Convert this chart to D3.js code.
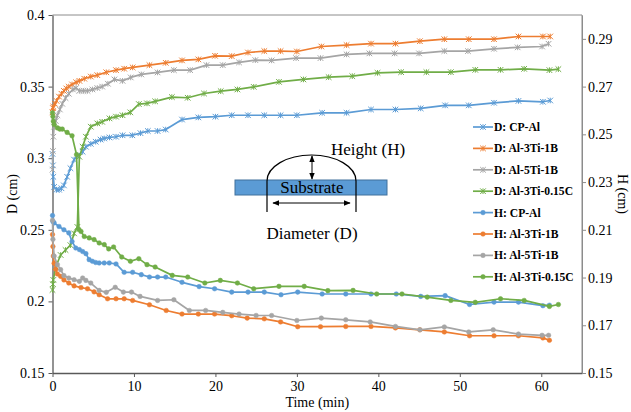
<!DOCTYPE html>
<html>
<head>
<meta charset="utf-8">
<script src="https://cdn.jsdelivr.net/npm/d3@7"></script>
<style>
body { margin: 0; background: #fff; }
svg { display: block; }
svg text { font-family: "Liberation Serif", "DejaVu Serif", serif; }
.axis text { font-size: 14px; fill: #000; }
.legend text { font-size: 11.6px; font-weight: bold; }
</style>
</head>
<body>
<script>
// axis ticks
var timeTicks = [0, 10, 20, 30, 40, 50, 60];
var dTicks = [0.15, 0.2, 0.25, 0.3, 0.35, 0.4];
var hTicks = [0.15, 0.17, 0.19, 0.21, 0.23, 0.25, 0.27, 0.29];

// D (cm) series - left axis
var dCpT = [0,0.05,0.1,0.2,0.5,0.8,1.1,1.4,1.8,2.2,2.65,3.1,3.7,4.1,4.7,5.3,5.9,6.35,7.0,7.8,8.6,9.8,10.8,11.7,12.9,13.9,15.9,17.9,20,22,24,26,28,30,33.1,36.1,39.1,42.1,45.2,48.2,51.1,54.2,57.2,60.2,61.1];
var dCpV = [0.303,0.295,0.287,0.280,0.278,0.278,0.279,0.281,0.287,0.293,0.299,0.302,0.3045,0.308,0.310,0.3115,0.313,0.3138,0.3145,0.315,0.316,0.316,0.3175,0.319,0.319,0.320,0.327,0.3285,0.329,0.330,0.330,0.330,0.330,0.330,0.3317,0.3317,0.334,0.334,0.3348,0.3369,0.3369,0.3387,0.340,0.3394,0.3403];

var dA31T = [0,0.05,0.1,0.3,0.5,0.8,1.1,1.4,1.7,2.0,2.4,2.9,3.3,3.9,4.7,5.5,6.6,7.8,8.8,9.84,11.9,13.9,15.9,17.9,19.95,22,24,26,28,30,33,36.1,39.1,42.1,45.1,48.1,51.1,54.2,57.2,60.2,61.1];
var dA31V = [0.332,0.335,0.336,0.338,0.340,0.343,0.345,0.347,0.3487,0.350,0.3515,0.353,0.354,0.3555,0.357,0.358,0.360,0.3615,0.3625,0.3634,0.365,0.3666,0.3683,0.369,0.3715,0.3713,0.3738,0.3748,0.3748,0.3745,0.378,0.379,0.380,0.380,0.3817,0.3831,0.3831,0.3831,0.385,0.385,0.385];

var dA51T = [0,0.05,0.1,0.2,0.4,0.6,0.9,1.2,1.6,2.0,2.5,2.9,3.3,3.8,4.3,4.9,5.5,6.1,6.8,7.6,8.6,9.6,10.9,12.9,14.9,16.9,18.9,20.9,22.9,24.9,26.9,29.9,32.9,36.1,38.9,42.0,45.0,48.1,51.0,54.2,57.1,60.1,60.9];
var dA51V = [0.292,0.305,0.315,0.322,0.326,0.330,0.334,0.338,0.342,0.345,0.348,0.349,0.347,0.347,0.347,0.348,0.349,0.350,0.352,0.355,0.354,0.3564,0.3585,0.3599,0.3615,0.3615,0.365,0.365,0.3669,0.3685,0.3683,0.3699,0.3699,0.3725,0.3732,0.3732,0.3732,0.3748,0.3748,0.3764,0.3774,0.378,0.3799];

var dA3CT = [0,0.05,0.1,0.4,1.0,1.6,2.2,2.65,3.05,3.3,3.7,4.1,4.7,5.5,6.1,7.0,7.8,8.6,9.55,10.6,11.6,12.6,14.65,16.6,18.6,20.65,22.7,24.7,27.8,30.8,33.9,36.8,39.9,42.8,45.9,48.9,51.9,55.0,57.9,61.0,62.1];
var dA3CV = [0.208,0.212,0.215,0.2242,0.2324,0.2359,0.2393,0.2475,0.252,0.301,0.308,0.315,0.322,0.3243,0.3254,0.3278,0.329,0.330,0.332,0.3378,0.3383,0.3397,0.3427,0.3422,0.3452,0.3468,0.348,0.3498,0.3533,0.355,0.3566,0.3573,0.3596,0.3601,0.3601,0.3601,0.3617,0.3617,0.3624,0.3615,0.3622];

// H (cm) series - right axis
var hCpT = [0,0.05,0.2,0.8,1.4,2.0,2.4,2.85,3.3,3.7,4.1,4.5,4.9,5.3,5.73,6.35,6.97,7.8,8.8,9.84,10.9,11.9,12.9,13.9,15.9,18.0,19.9,22.0,24.0,26.0,28.05,30.1,33.1,36.0,39.1,42.2,45.2,48.2,51.2,54.2,57.2,60.2,61.0];
var hCpV = [0.216,0.2135,0.2129,0.2114,0.21,0.2087,0.2051,0.2024,0.2017,0.2009,0.20,0.1975,0.1968,0.1963,0.1961,0.1961,0.1961,0.1957,0.1922,0.1922,0.1912,0.1902,0.1902,0.1902,0.188,0.1862,0.1853,0.1839,0.1839,0.1839,0.1828,0.1839,0.1831,0.1831,0.1831,0.1831,0.1821,0.1824,0.1787,0.1797,0.1797,0.1782,0.1784];

var hA31T = [0,0.05,0.1,0.2,0.4,0.6,1.0,1.4,2.0,2.65,3.5,4.3,5.1,5.73,6.76,7.8,8.8,9.84,11.9,13.96,15.9,17.9,19.9,22.0,23.9,26.0,28.0,30.1,32.9,36.0,39.1,42.1,45.1,48.1,51.2,54.2,57.2,60.2,61.0];
var hA31V = [0.208,0.203,0.199,0.196,0.1935,0.1915,0.1905,0.189,0.1877,0.1865,0.1858,0.1853,0.184,0.1828,0.1811,0.1811,0.1811,0.1804,0.1786,0.1762,0.1747,0.1747,0.1747,0.174,0.173,0.1727,0.1714,0.1694,0.1694,0.1695,0.1695,0.1689,0.1681,0.1672,0.1656,0.1656,0.1656,0.1647,0.1637];

var hA51T = [0,0.05,0.2,0.6,1.0,1.4,2.0,2.65,3.3,3.7,4.1,4.7,5.73,6.6,7.7,8.7,9.7,10.75,12.9,14.9,16.8,18.8,20.9,22.9,25.0,26.9,30.0,33.0,36.0,39.0,42.1,45.1,48.1,51.1,54.1,57.2,60.1,60.9];
var hA51V = [0.214,0.206,0.199,0.1954,0.1933,0.1908,0.1898,0.1891,0.1884,0.1898,0.1888,0.1877,0.1846,0.1838,0.1859,0.1839,0.1839,0.1821,0.1804,0.1807,0.1762,0.1762,0.1754,0.1747,0.1741,0.1741,0.172,0.173,0.1723,0.1714,0.1695,0.1681,0.1693,0.1672,0.1681,0.1663,0.1658,0.1658];

var hA3CT = [0,0.05,0.1,0.2,0.6,0.9,1.2,1.8,2.4,2.95,3.25,3.5,3.9,4.5,5.1,5.73,6.35,6.9,7.5,8.5,9.56,10.6,11.6,12.6,14.7,16.6,18.7,20.6,22.7,24.7,27.8,30.9,33.8,36.9,39.8,42.9,46.0,48.9,51.9,55.0,57.9,61.0,62.1];
var hA3CV = [0.259,0.2575,0.2555,0.2541,0.2527,0.2522,0.2522,0.2508,0.2494,0.2415,0.2101,0.2093,0.2072,0.2066,0.2059,0.2045,0.2038,0.202,0.2028,0.1986,0.1968,0.1979,0.1954,0.1944,0.1909,0.1902,0.1877,0.1888,0.1877,0.1853,0.1863,0.1863,0.1845,0.1846,0.1831,0.1831,0.1818,0.1804,0.1796,0.1811,0.1804,0.1779,0.1787];

var blue = "#5b9bd5", orange = "#ed7d31", gray = "#a5a5a5", green = "#70ad47";

//series table built from the arrays above
function zip(t, v){ return t.map(function(d, i){ return [d, v[i]]; }); }
var series = [
    {name: "D: CP-Al", axis: "D", marker: "star", color: blue, pts: zip(dCpT, dCpV)},
    {name: "D: Al-3Ti-1B", axis: "D", marker: "star", color: orange, pts: zip(dA31T, dA31V)},
    {name: "D: Al-5Ti-1B", axis: "D", marker: "star", color: gray, pts: zip(dA51T, dA51V)},
    {name: "D: Al-3Ti-0.15C", axis: "D", marker: "star", color: green, pts: zip(dA3CT, dA3CV)},
    {name: "H: CP-Al", axis: "H", marker: "circle", color: blue, pts: zip(hCpT, hCpV)},
    {name: "H: Al-3Ti-1B", axis: "H", marker: "circle", color: orange, pts: zip(hA31T, hA31V)},
    {name: "H: Al-5Ti-1B", axis: "H", marker: "circle", color: gray, pts: zip(hA51T, hA51V)},
    {name: "H: Al-3Ti-0.15C", axis: "H", marker: "circle", color: green, pts: zip(hA3CT, hA3CV)}
];

drawChart();

function drawChart(){
    var width = 631, height = 412;
    var pLeft = 52.5, pRight = 582, pTop = 15, pBottom = 373;

    var svg = d3.select("body").append("svg")
        .attr("width", width)
        .attr("height", height);

    var x = d3.scaleLinear().domain([0, 65]).range([pLeft, pRight]);
    var yD = d3.scaleLinear().domain([0.15, 0.4]).range([pBottom, pTop]);
    var yH = d3.scaleLinear().domain([0.15, 0.30]).range([pBottom, pTop]);

    //plot frame (top and right)
    svg.append("path")
        .attr("d", "M" + pLeft + "," + pTop + "H" + pRight + "V" + pBottom)
        .attr("fill", "none")
        .attr("stroke", "#8c8c8c")
        .attr("stroke-width", 1);

    var fmt = function(d){ return String(+d.toFixed(2)); };

    var xAxis = svg.append("g").attr("class", "axis")
        .attr("transform", "translate(0," + pBottom + ")")
        .call(d3.axisBottom(x).tickValues(timeTicks).tickSize(4).tickPadding(4).tickSizeOuter(0));
    var dAxis = svg.append("g").attr("class", "axis")
        .attr("transform", "translate(" + pLeft + ",0)")
        .call(d3.axisLeft(yD).tickValues(dTicks).tickFormat(fmt).tickSize(4).tickPadding(4).tickSizeOuter(0));
    var hAxis = svg.append("g").attr("class", "axis")
        .attr("transform", "translate(" + pRight + ",0)")
        .call(d3.axisRight(yH).tickValues(hTicks).tickFormat(fmt).tickSize(4).tickPadding(2).tickSizeOuter(0));
    [xAxis, dAxis].forEach(function(g){
        g.select(".domain").attr("stroke", "#595959").attr("stroke-width", 1.3);
        g.selectAll(".tick line").attr("stroke", "#595959");
    });
    hAxis.select(".domain").attr("stroke", "#8c8c8c");
    hAxis.selectAll(".tick line").attr("stroke", "#8c8c8c");
    svg.selectAll(".axis").attr("font-family", null).attr("font-size", null);

    //axis titles
    svg.append("text")
        .attr("x", (pLeft + pRight) / 2).attr("y", 407)
        .attr("text-anchor", "middle").style("font-size", "14px")
        .text("Time (min)");
    svg.append("text")
        .attr("transform", "translate(17," + (pTop + pBottom) / 2 + ") rotate(-90)")
        .attr("text-anchor", "middle").style("font-size", "14px")
        .text("D (cm)");
    svg.append("text")
        .attr("transform", "translate(618," + (pTop + pBottom) / 2 + ") rotate(90)")
        .attr("text-anchor", "middle").style("font-size", "14px")
        .text("H (cm)");

    //inset sketch of the droplet
    var inset = svg.append("g").attr("class", "inset");
    inset.append("rect")
        .attr("x", 235).attr("y", 180).attr("width", 152).attr("height", 15)
        .attr("fill", "#5b9bd5").attr("stroke", "#41719c").attr("stroke-width", 1);
    inset.append("text")
        .attr("x", 312).attr("y", 193).attr("text-anchor", "middle")
        .style("font-size", "17px").text("Substrate");
    inset.append("path")
        .attr("d", "M267,212 V181 A44.5,26 0 0 1 356,181 V212")
        .attr("fill", "none").attr("stroke", "#000").attr("stroke-width", 1.2);

    svg.append("defs").append("marker")
        .attr("id", "arr")
        .attr("viewBox", "0 0 10 10").attr("refX", 9).attr("refY", 5)
        .attr("markerWidth", 7).attr("markerHeight", 7)
        .attr("orient", "auto-start-reverse")
        .append("path").attr("d", "M0,1 L10,5 L0,9 Z").attr("fill", "#000");
    inset.append("line")
        .attr("x1", 312).attr("y1", 156).attr("x2", 312).attr("y2", 179)
        .attr("stroke", "#000").attr("stroke-width", 1)
        .attr("marker-start", "url(#arr)").attr("marker-end", "url(#arr)");
    inset.append("line")
        .attr("x1", 273).attr("y1", 203).attr("x2", 350).attr("y2", 203)
        .attr("stroke", "#000").attr("stroke-width", 1)
        .attr("marker-start", "url(#arr)").attr("marker-end", "url(#arr)");
    inset.append("text")
        .attr("x", 331).attr("y", 155)
        .style("font-size", "17px").text("Height (H)");
    inset.append("text")
        .attr("x", 312).attr("y", 239).attr("text-anchor", "middle")
        .style("font-size", "17px").text("Diameter (D)");

    var line = d3.line().x(function(d){ return x(d[0]); });

    series.forEach(function(s){
        var yScale = s.axis == "D" ? yD : yH;
        var g = svg.append("g").attr("class", "series");
        g.append("path")
            .datum(s.pts)
            .attr("d", line.y(function(d){ return yScale(d[1]); }))
            .attr("fill", "none")
            .attr("stroke", s.color)
            .attr("stroke-width", 1.7)
            .attr("stroke-linejoin", "round");
        g.selectAll(".pt")
            .data(s.pts)
            .enter()
            .append("g")
            .attr("class", "pt")
            .attr("transform", function(d){ return "translate(" + x(d[0]) + "," + yScale(d[1]) + ")"; })
            .each(function(){ drawMarker(d3.select(this), s.marker, s.color); });
    });

    //legend
    var legend = svg.append("g").attr("class", "legend")
        .attr("transform", "translate(473,127)");
    var item = legend.selectAll(".item")
        .data(series)
        .enter()
        .append("g")
        .attr("class", "item")
        .attr("transform", function(d, i){ return "translate(0," + i * 21.4 + ")"; });
    item.append("line")
        .attr("x1", 0).attr("x2", 20)
        .attr("stroke", function(d){ return d.color; })
        .attr("stroke-width", 1.7);
    item.each(function(d){
        var m = d3.select(this).append("g").attr("transform", "translate(10,0)");
        drawMarker(m, d.marker, d.color);
    });
    item.append("text")
        .attr("x", 21).attr("dy", "0.35em")
        .text(function(d){ return d.name; });
}

//markers
function drawMarker(g, type, color){
    if (type == "star"){
        var s = 2.8;
        g.append("path")
            .attr("d", "M" + -s + "," + -s + "L" + s + "," + s + "M" + -s + "," + s + "L" + s + "," + -s + "M0," + -s + "V" + s)
            .attr("stroke", color).attr("stroke-width", 1).attr("fill", "none");
    } else {
        g.append("circle").attr("r", 2.3).attr("fill", color).attr("stroke", color).attr("stroke-width", 0.5);
    }
}
</script>
</body>
</html>
